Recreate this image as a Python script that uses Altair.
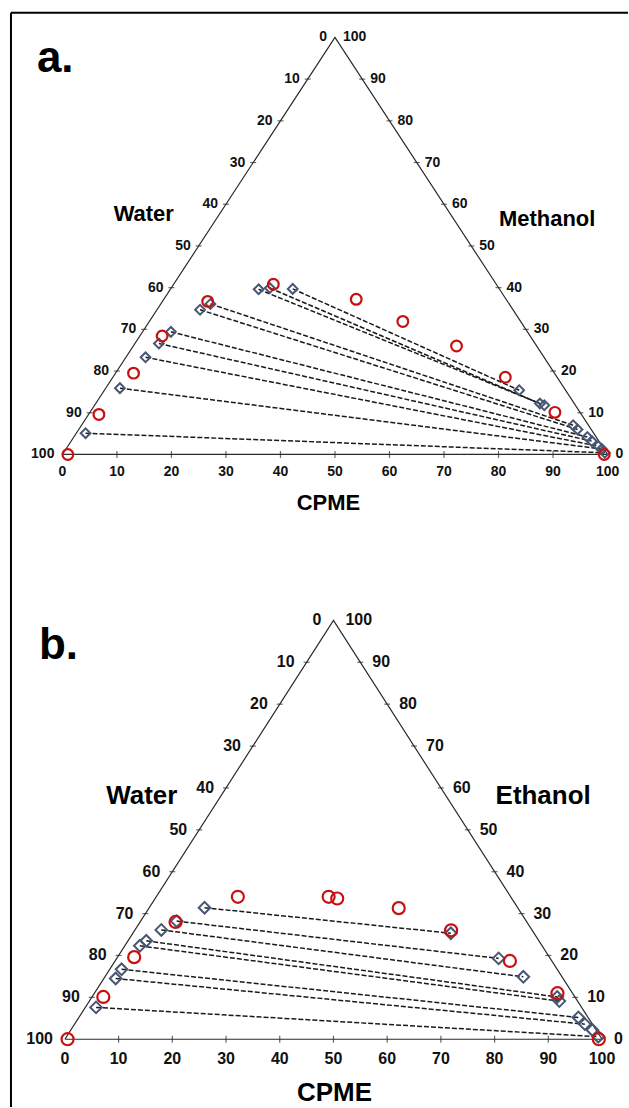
import altair as alt
import pandas as pd

# ---------------- data (mass %, CPME and alcohol; water = 100 - both) ----------------
ticks = [0, 10, 20, 30, 40, 50, 60, 70, 80, 90, 100]

# Panel a: CPME / Methanol / Water
a_bin_cpme = [1.0, 1.9, 3.3, 4.1, 8.3, 18.3, 35.3, 46.5, 59.3, 72.0, 85.3, 99.4]
a_bin_alc = [0.0, 9.6, 19.5, 28.4, 36.7, 40.8, 37.2, 31.9, 26.0, 18.5, 10.1, 0.0]
a_tie_l_cpme = [1.7, 2.6, 3.6, 4.4, 5.2, 7.9, 9.1, 16.2, 18.1, 22.4]
a_tie_l_alc = [5.1, 15.9, 23.3, 26.6, 29.4, 34.7, 36.1, 39.6, 39.9, 39.7]
a_tie_r_cpme = [99.3, 98.3, 97.3, 95.5, 94.2, 91.5, 90.2, 82.5, 81.5, 76.1]
a_tie_r_alc = [0.4, 1.3, 2.0, 3.2, 4.2, 6.0, 7.0, 11.8, 12.2, 15.4]
a_extra_cpme = []
a_extra_alc = []

# Panel b: CPME / Ethanol / Water
b_bin_cpme = [0.5, 2.1, 3.1, 6.6, 15.2, 32.1, 33.9, 46.5, 58.9, 73.5, 86.2, 99.4]
b_bin_alc = [0.0, 10.1, 19.6, 28.0, 34.0, 34.0, 33.6, 31.3, 26.0, 18.7, 11.0, 0.0]
b_tie_l_cpme = [10.3, 6.7, 4.9, 3.4, 2.8, 2.2, 2.2, 2.0]
b_tie_l_alc = [31.4, 28.2, 26.1, 23.5, 22.3, 16.7, 14.5, 7.6]
b_tie_r_cpme = [59.2, 71.1, 77.9, 86.6, 87.5, 93.0, 95.0, 99.0]
b_tie_r_alc = [25.3, 19.3, 14.9, 10.1, 9.1, 5.2, 3.6, 0.6]
b_extra_cpme = [97.1]
b_extra_alc = [2.2]

FONT = "Liberation Sans"
W = 629
H = 554
RED = "#c81010"
DIA = "#475673"


def panel(tag, alcohol, d, geom, style, lab):
    x0, sx, yb, sy = geom
    xs = alt.Scale(domain=[-x0 / sx, (W - x0) / sx], nice=False, zero=False)
    ys = alt.Scale(domain=[(yb - H) / sy, yb / sy], nice=False, zero=False)
    X = alt.X("X:Q", scale=xs, axis=None)
    Y = alt.Y("Y:Q", scale=ys, axis=None)

    def base(df):
        return alt.Chart(df).transform_calculate(X="datum.C + datum.M / 2", Y="datum.M")

    edges = base(pd.DataFrame({"C": [0, 100, 0, 0], "M": [0, 0, 100, 0], "o": [0, 1, 2, 3]})).mark_line(
        color="#2a2a2a", strokeWidth=1.2
    ).encode(x=X, y=Y, order="o:Q")

    inner = [t for t in ticks if 0 < t < 100]
    side = pd.DataFrame(
        {"C": [0] * len(inner) + [100 - t for t in inner],
         "M": [100 - t for t in inner] + inner}
    )
    side_ticks = base(side).mark_tick(orient="horizontal", size=6, thickness=1.2, color="#2a2a2a").encode(x=X, y=Y)
    bot_ticks = base(pd.DataFrame({"C": inner, "M": [0] * len(inner)})).mark_tick(
        orient="vertical", size=7, thickness=1.2, color="#2a2a2a"
    ).encode(x=X, y=Y)

    fs = style["tick_fs"]
    left_lab = base(pd.DataFrame({"C": [0] * len(ticks), "M": [100 - t for t in ticks], "t": ticks})).mark_text(
        align="right", baseline="middle", dx=-style["gap"], font=FONT, fontWeight="bold", fontSize=fs, color="#111"
    ).encode(x=X, y=Y, text="t:Q")
    right_lab = base(pd.DataFrame({"C": [100 - t for t in ticks], "M": ticks, "t": ticks})).mark_text(
        align="left", baseline="middle", dx=style["gap"], font=FONT, fontWeight="bold", fontSize=fs, color="#111"
    ).encode(x=X, y=Y, text="t:Q")
    bot_lab = base(pd.DataFrame({"C": ticks, "M": [0] * len(ticks), "t": ticks})).mark_text(
        align="center", baseline="middle", dy=style["bot_dy"], font=FONT, fontWeight="bold", fontSize=fs, color="#111"
    ).encode(x=X, y=Y, text="t:Q")

    n = len(d["lc"])
    tie = pd.DataFrame(
        {"id": list(range(n)) * 2,
         "C": d["lc"] + d["rc"],
         "M": d["lm"] + d["rm"]}
    )
    tie_lines = base(tie).mark_line(color="#1a1a1a", strokeWidth=1.5, strokeDash=[5, 2]).encode(
        x=X, y=Y, detail="id:N"
    )
    dia_df = pd.DataFrame({"C": d["lc"] + d["rc"] + d["ec"], "M": d["lm"] + d["rm"] + d["em"]})
    diamonds = base(dia_df).mark_point(
        shape="diamond", filled=False, size=style["dia"], stroke=DIA, strokeWidth=2, opacity=1
    ).encode(x=X, y=Y)
    circles = base(pd.DataFrame({"C": d["bc"], "M": d["bm"]})).mark_point(
        shape="circle", filled=False, size=style["circ"], stroke=RED, strokeWidth=2.2, opacity=1
    ).encode(x=X, y=Y)

    one = pd.DataFrame({"t": [0]})

    def txt(s, x, y, size, align="center"):
        return alt.Chart(pd.DataFrame({"t": [s]})).mark_text(
            align=align, baseline="alphabetic", font=FONT, fontWeight="bold", fontSize=size, color="#000"
        ).encode(x=alt.value(x), y=alt.value(y), text="t:N")

    labels = [
        txt(tag, lab["tag"][0], lab["tag"][1], 44, align="left"),
        txt("Water", lab["water"][0], lab["water"][1], style["name_fs"]),
        txt(alcohol, lab["alc"][0], lab["alc"][1], style["name_fs"]),
        txt("CPME", lab["cpme"][0], lab["cpme"][1], style["name_fs"]),
    ]

    border = []
    if lab["border"]:
        border = [
            alt.Chart(one).mark_rule(color="#000", strokeWidth=2).encode(
                x=alt.value(11), y=alt.value(12), y2=alt.value(2 * H)
            ),
            alt.Chart(one).mark_rule(color="#000", strokeWidth=2).encode(
                x=alt.value(11), x2=alt.value(W), y=alt.value(12)
            ),
        ]

    return alt.layer(
        *border, edges, side_ticks, bot_ticks, left_lab, right_lab, bot_lab,
        tie_lines, diamonds, circles, *labels
    ).properties(width=W, height=H)


pa = panel(
    "a.", "Methanol",
    dict(bc=a_bin_cpme, bm=a_bin_alc, lc=a_tie_l_cpme, lm=a_tie_l_alc, rc=a_tie_r_cpme, rm=a_tie_r_alc,
         ec=a_extra_cpme, em=a_extra_alc),
    (62.5, 5.46, 454.3, 4.177),
    dict(tick_fs=14, gap=8, bot_dy=18, dia=95, circ=115, name_fs=22),
    dict(tag=(37, 71), water=(144, 220), alc=(548, 225.5), cpme=(329, 510), border=True),
)
pb = panel(
    "b.", "Ethanol",
    dict(bc=b_bin_cpme, bm=b_bin_alc, lc=b_tie_l_cpme, lm=b_tie_l_alc, rc=b_tie_r_cpme, rm=b_tie_r_alc,
         ec=b_extra_cpme, em=b_extra_alc),
    (65, 5.38, 486, 4.195),
    dict(tick_fs=16, gap=12, bot_dy=20, dia=135, circ=145, name_fs=26),
    dict(tag=(39, 105), water=(142, 250.5), alc=(544, 250.5), cpme=(335, 548), border=False),
)

chart = (
    alt.vconcat(pa, pb, spacing=0, bounds="flush")
    .properties(padding=0, background="white")
    .configure_view(stroke=None)
    .configure_concat(spacing=0)
)
chart.save("out.html", embed_options={"renderer": "svg", "actions": False})
